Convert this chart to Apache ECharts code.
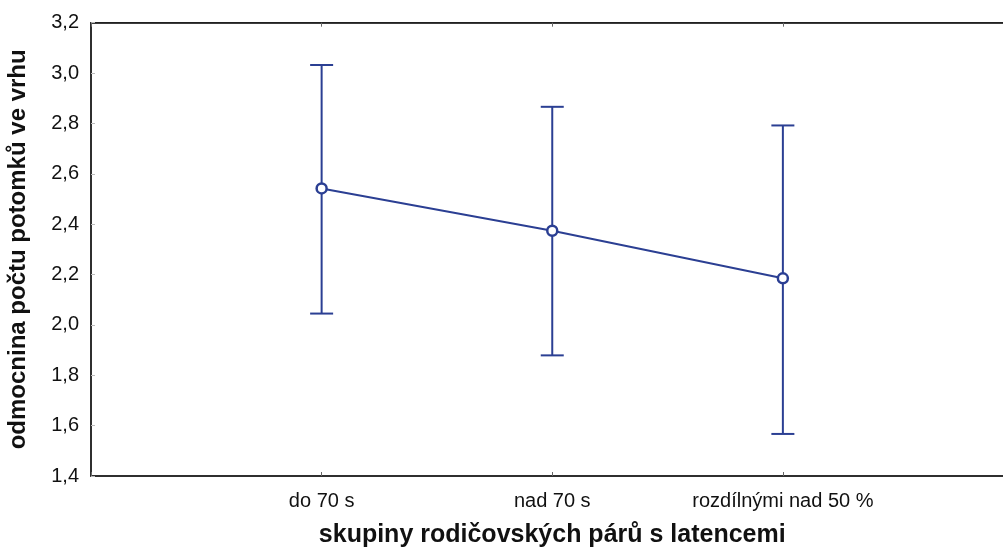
<!DOCTYPE html>
<html><head><meta charset="utf-8">
<script src="https://cdn.jsdelivr.net/npm/echarts@6/dist/echarts.min.js"></script>
<style>html,body{margin:0;padding:0;background:#fff;}#c{width:1003px;height:555px;}</style>
</head><body><div id="c"></div>
<script>
var categories = ['do 70 s', 'nad 70 s', 'rozdílnými nad 50 %'];
var means = [2.542, 2.374, 2.185];
var lower = [2.045, 1.879, 1.567];
var upper = [3.032, 2.866, 2.792];
var yTicks = { min: 1.4, max: 3.2, step: 0.2 };

var color = '#2b3f93';
var lineData = means.map(function (v, i) { return [i + 1, v]; });
var errData = means.map(function (v, i) { return [i + 1, lower[i], upper[i]]; });
var font = 'Liberation Sans, Arial, sans-serif';

var chart = echarts.init(document.getElementById('c'), null, { renderer: 'canvas' });
chart.setOption({
  animation: false,
  backgroundColor: '#fff',
  grid: { left: 91, right: -10.5, top: 22.7, bottom: 79, containLabel: false, outerBoundsMode: 'none',
    show: true, borderColor: '#222', borderWidth: 1.5, backgroundColor: 'transparent' },
  xAxis: [{
    type: 'value', min: 0, max: 4, interval: 1,
    axisLine: { show: true, lineStyle: { color: '#222', width: 1.5 } },
    axisTick: { show: true, inside: true, length: 4, lineStyle: { color: '#666' } },
    splitLine: { show: false },
    axisLabel: { margin: 15, color: '#111', fontFamily: font, fontSize: 20,
      formatter: function (v) { return categories[v - 1] || ''; } },
    name: 'skupiny rodičovských párů s latencemi', nameLocation: 'middle', nameGap: 47,
    nameTextStyle: { color: '#111', fontFamily: font, fontSize: 25, fontWeight: 'bold' }
  }, {
    type: 'value', min: 0, max: 4, interval: 1, position: 'top',
    axisLine: { show: true, lineStyle: { color: '#222', width: 1.5 } },
    axisTick: { show: true, inside: true, length: 4, lineStyle: { color: '#666' } },
    axisLabel: { show: false }, splitLine: { show: false }
  }],
  yAxis: {
    type: 'value', min: yTicks.min, max: yTicks.max, interval: yTicks.step,
    axisLine: { show: true, lineStyle: { color: '#222', width: 1.5 } },
    axisTick: { show: true, inside: true, length: 4, lineStyle: { color: '#bbb' } },
    splitLine: { show: false },
    axisLabel: { margin: 12, color: '#111', fontFamily: font, fontSize: 20,
      formatter: function (v) { return v.toFixed(1).replace('.', ','); } },
    name: 'odmocnina počtu potomků ve vrhu', nameLocation: 'middle', nameGap: 61,
    nameTextStyle: { color: '#111', fontFamily: font, fontSize: 24, fontWeight: 'bold' }
  },
  series: [{
    type: 'custom',
    data: errData,
    z: 2,
    renderItem: function (params, api) {
      var x = api.value(0);
      var lo = api.coord([x, api.value(1)]);
      var hi = api.coord([x, api.value(2)]);
      var hw = 11.5;
      var st = { stroke: color, lineWidth: 2 };
      return { type: 'group', children: [
        { type: 'line', shape: { x1: lo[0], y1: lo[1], x2: hi[0], y2: hi[1] }, style: st },
        { type: 'line', shape: { x1: lo[0] - hw, y1: lo[1], x2: lo[0] + hw, y2: lo[1] }, style: st },
        { type: 'line', shape: { x1: hi[0] - hw, y1: hi[1], x2: hi[0] + hw, y2: hi[1] }, style: st }
      ] };
    }
  }, {
    type: 'line',
    data: lineData,
    z: 3,
    lineStyle: { color: color, width: 2 },
    symbol: 'circle', symbolSize: 10,
    itemStyle: { color: '#fff', borderColor: color, borderWidth: 2.5 }
  }]
});
</script></body></html>
